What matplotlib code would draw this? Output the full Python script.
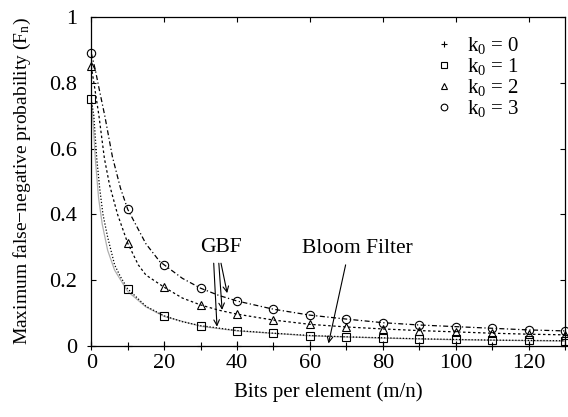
import matplotlib
matplotlib.use("Agg")
import matplotlib.pyplot as plt

plt.rcParams['font.family'] = ['Liberation Serif', 'DejaVu Serif']
plt.rcParams['mathtext.fontset'] = 'custom'
plt.rcParams['mathtext.rm'] = 'Liberation Serif'
plt.rcParams['mathtext.it'] = 'Liberation Serif'

# ---- data ----
marker_x = [0, 10, 20, 30, 40, 50, 60, 70, 80, 90, 100, 110, 120, 130]
k0_0 = [0, 0, 0, 0, 0, 0, 0, 0, 0, 0, 0, 0, 0, 0]
k0_1 = [0.75, 0.173, 0.091, 0.061, 0.046, 0.038, 0.031, 0.027, 0.024, 0.021, 0.019, 0.017, 0.016, 0.015]
k0_2 = [0.85, 0.312, 0.178, 0.124, 0.096, 0.078, 0.065, 0.057, 0.051, 0.046, 0.042, 0.038, 0.035, 0.033]
k0_3 = [0.89, 0.415, 0.246, 0.175, 0.136, 0.111, 0.093, 0.081, 0.070, 0.063, 0.058, 0.053, 0.048, 0.045]

# curve samples
c1_x = [0, 0.7, 1.5, 2.3, 3.2, 4.5, 6.4, 8, 10, 15, 20, 25, 30, 40, 50, 60, 70, 80, 90, 100, 110, 120, 130]
c1_y = [0.75, 0.70, 0.57, 0.48, 0.40, 0.33, 0.246, 0.21, 0.173, 0.12, 0.091, 0.073, 0.061, 0.046, 0.038, 0.031,
        0.027, 0.024, 0.021, 0.019, 0.017, 0.016, 0.015]
c2_x = [0, 1, 2.1, 3.6, 5, 7.2, 10, 12.9, 15, 20, 25, 30, 35, 40, 50, 60, 70, 80, 90, 100, 110, 120, 130]
c2_y = [0.85, 0.78, 0.70, 0.57, 0.49, 0.40, 0.312, 0.246, 0.215, 0.178, 0.145, 0.124, 0.108, 0.096, 0.078, 0.065,
        0.057, 0.051, 0.046, 0.042, 0.038, 0.035, 0.033]
c3_x = [0, 1.1, 2, 3.7, 5.8, 8, 10, 15, 18.8, 25, 30, 35, 40, 50, 60, 70, 80, 90, 100, 110, 120, 130]
c3_y = [0.89, 0.84, 0.79, 0.70, 0.575, 0.48, 0.415, 0.31, 0.256, 0.205, 0.175, 0.153, 0.136, 0.111, 0.093, 0.081,
        0.070, 0.063, 0.058, 0.053, 0.048, 0.045]
g_x = [0, 0.5, 1.1, 2, 3, 4.5, 6.4, 10, 15, 20, 30, 40, 60, 80, 100, 130]
g_y = [0.75, 0.68, 0.57, 0.45, 0.37, 0.29, 0.23, 0.165, 0.118, 0.089, 0.059, 0.045, 0.030, 0.023, 0.018, 0.014]

legend_labels = ['k$_0$ = 0', 'k$_0$ = 1', 'k$_0$ = 2', 'k$_0$ = 3']
x_ticks = [0, 20, 40, 60, 80, 100, 120]
y_ticks = [0, 0.2, 0.4, 0.6, 0.8, 1]
y_tick_labels = ['0', '0.2', '0.4', '0.6', '0.8', '1']

FS = 15.5
TFS = 16

fig = plt.figure(figsize=(5.68, 4.17), dpi=100)
ax = fig.add_axes([0.1607, 0.171, 0.834, 0.788])

# curves
ax.plot(g_x, g_y, color='#b0b0b0', lw=0.9)
ax.plot(c1_x, c1_y, color='black', lw=0.9, ls=(0, (1, 1.5)))
ax.plot(c2_x, c2_y, color='black', lw=0.9, ls=(0, (2, 2)))
ax.plot(c3_x, c3_y, color='black', lw=0.9, ls=(0, (4, 2, 1, 2)))

# markers
mk = dict(ls='none', mfc='none', mec='black', mew=0.8, ms=6)
h0, = ax.plot(marker_x, k0_0, marker='+', color='black', ls='none', ms=6, mew=0.8, clip_on=False)
h1, = ax.plot(marker_x, k0_1, marker='s', clip_on=False, **mk)
h2, = ax.plot(marker_x, k0_2, marker='^', clip_on=False, **mk)
h3, = ax.plot(marker_x, k0_3, marker='o', clip_on=False, **mk)

ax.set_xlim(0, 130)
ax.set_ylim(0, 1)
ax.set_xticks(x_ticks)
ax.set_yticks(y_ticks)
ax.set_yticklabels(y_tick_labels)
ax.tick_params(direction='in', length=3.6, width=0.8, top=True, right=True, labelsize=TFS)
ax.tick_params(axis='y', pad=10)
ax.tick_params(axis='x', pad=6)
for s in ax.spines.values():
    s.set_linewidth(0.9)

ax.set_xlabel('Bits per element (m/n)', fontsize=15, labelpad=7)
ax.set_ylabel('Maximum false\u2212negative probability (F$_\\mathrm{n}$)', fontsize=14, labelpad=12)

leg = ax.legend([h0, h1, h2, h3], legend_labels, loc='upper right', bbox_to_anchor=(0.935, 0.99),
                frameon=False, fontsize=15, handlelength=1.0, handletextpad=0.6, labelspacing=0.0,
                markerscale=0.8, borderpad=0.2)

# annotations
arr = dict(arrowstyle='->', lw=0.8, color='black', shrinkA=0, shrinkB=0, mutation_scale=10)
ax.text(35.7, 0.30, 'GBF', fontsize=FS, ha='center', va='center')
ax.annotate('', xy=(34.5, 0.058), xytext=(33.6, 0.251), arrowprops=arr)
ax.annotate('', xy=(35.9, 0.109), xytext=(35.0, 0.251), arrowprops=arr)
ax.annotate('', xy=(37.3, 0.160), xytext=(35.6, 0.251), arrowprops=arr)
ax.text(72.9, 0.296, 'Bloom Filter', fontsize=FS, ha='center', va='center')
ax.annotate('', xy=(65.1, 0.007), xytext=(69.8, 0.246), arrowprops=arr)

fig.savefig('out.png', dpi=100)
